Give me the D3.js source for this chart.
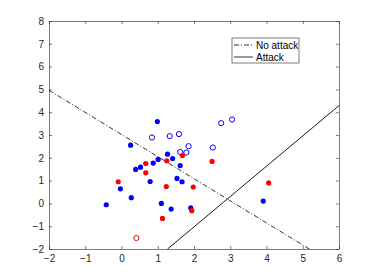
<!DOCTYPE html>
<html>
<head>
<meta charset="utf-8">
<script src="https://cdn.jsdelivr.net/npm/d3@7"></script>
<style>
  body { margin: 0; background: #fff; }
  svg { display: block; font-family: "Liberation Sans", Arial, sans-serif; }
</style>
</head>
<body>
<div id="wrapper"></div>
<script>
// data
const blueFilledX = [0.99, 0.25, 1.27, 1.01, 1.41, 0.875, 1.62, 0.525, 0.39, 1.53, 1.67, 0.79, -0.03, 0.27, -0.42, 1.10, 1.37, 1.91, 3.91];
const blueFilledY = [3.59, 2.555, 2.16, 1.93, 1.97, 1.77, 1.66, 1.59, 1.49, 1.095, 0.95, 0.96, 0.64, 0.25, -0.06, 0.0, -0.25, -0.2, 0.1];
const blueOpenX = [0.84, 1.33, 1.585, 1.85, 1.62, 1.79, 2.52, 2.75, 3.05];
const blueOpenY = [2.89, 2.95, 3.04, 2.51, 2.25, 2.23, 2.45, 3.52, 3.68];
const redFilledX = [-0.09, 0.67, 0.67, 1.25, 1.68, 1.235, 1.98, 2.50, 4.06, 1.13, 1.94];
const redFilledY = [0.95, 1.75, 1.34, 1.87, 2.10, 0.74, 0.72, 1.84, 0.90, -0.66, -0.32];
const redOpenX = [0.41];
const redOpenY = [-1.52];

// decision lines, end points
const noAttackLine = [[-2, 4.96], [5.18, -2]];
const attackLine = [[1.27, -2], [6, 4.29]];

const xTicks = [-2, -1, 0, 1, 2, 3, 4, 5, 6];
const yTicks = [-2, -1, 0, 1, 2, 3, 4, 5, 6, 7, 8];
const legendLabels = ["No attack", "Attack"];

const dimensions = {
  width: 374,
  height: 280,
  margin: { top: 21, right: 35, bottom: 31, left: 49 },
};
dimensions.boundedWidth = dimensions.width - dimensions.margin.left - dimensions.margin.right;
dimensions.boundedHeight = dimensions.height - dimensions.margin.top - dimensions.margin.bottom;

const svg = d3.select("#wrapper")
  .append("svg")
  .attr("width", dimensions.width)
  .attr("height", dimensions.height);

const bounds = svg.append("g")
  .attr("transform", `translate(${dimensions.margin.left},${dimensions.margin.top})`);

const xScale = d3.scaleLinear().domain([-2, 6]).range([0, dimensions.boundedWidth]);
const yScale = d3.scaleLinear().domain([-2, 8]).range([dimensions.boundedHeight, 0]);

const axisColor = "#262626";

// axes, ticks inside like matlab
const xAxis = bounds.append("g")
  .attr("transform", `translate(0,${dimensions.boundedHeight})`)
  .call(d3.axisBottom(xScale).tickValues(xTicks).tickSizeInner(-3).tickSizeOuter(0).tickPadding(6));
const yAxis = bounds.append("g")
  .call(d3.axisLeft(yScale).tickValues(yTicks).tickSizeInner(-3).tickSizeOuter(0).tickPadding(5));
const xTop = bounds.append("g")
  .call(d3.axisTop(xScale).tickValues(xTicks).tickSizeInner(-3).tickSizeOuter(0).tickFormat(""));
const yRight = bounds.append("g")
  .attr("transform", `translate(${dimensions.boundedWidth},0)`)
  .call(d3.axisRight(yScale).tickValues(yTicks).tickSizeInner(-3).tickSizeOuter(0).tickFormat(""));

[xAxis, yAxis, xTop, yRight].forEach(a => {
  a.select(".domain").attr("stroke", axisColor).attr("stroke-width", 0.6);
  a.selectAll(".tick line").attr("stroke", axisColor).attr("stroke-width", 0.6);
  a.selectAll(".tick text").attr("fill", axisColor).style("font-size", "10px");
});

// lines
const line = d3.line().x(d => xScale(d[0])).y(d => yScale(d[1]));
bounds.append("path")
  .attr("d", line(noAttackLine))
  .attr("fill", "none")
  .attr("stroke", "#000")
  .attr("stroke-width", 0.8)
  .attr("stroke-dasharray", "5,2,1,2");
bounds.append("path")
  .attr("d", line(attackLine))
  .attr("fill", "none")
  .attr("stroke", "#000")
  .attr("stroke-width", 0.9);

// points
function drawPoints(xs, ys, color, filled) {
  bounds.append("g")
    .selectAll("circle")
    .data(d3.zip(xs, ys))
    .join("circle")
    .attr("cx", d => xScale(d[0]))
    .attr("cy", d => yScale(d[1]))
    .attr("r", filled ? 2.6 : 2.6)
    .attr("fill", filled ? color : "none")
    .attr("stroke", filled ? "none" : color)
    .attr("stroke-width", 1);
}
drawPoints(blueFilledX, blueFilledY, "#0000ff", true);
drawPoints(blueOpenX, blueOpenY, "#0000ff", false);
drawPoints(redFilledX, redFilledY, "#ff0000", true);
drawPoints(redOpenX, redOpenY, "#ff0000", false);

// legend
const legend = svg.append("g").attr("transform", "translate(232,38)");
legend.append("rect")
  .attr("width", 67)
  .attr("height", 25)
  .attr("fill", "#fff")
  .attr("stroke", axisColor)
  .attr("stroke-width", 0.6);
legendLabels.forEach((label, i) => {
  const y = 7 + i * 12;
  legend.append("line")
    .attr("x1", 2).attr("x2", 21)
    .attr("y1", y).attr("y2", y)
    .attr("stroke", "#000")
    .attr("stroke-width", 0.8)
    .attr("stroke-dasharray", i === 0 ? "5,2,1,2" : null);
  legend.append("text")
    .attr("x", 24)
    .attr("y", y)
    .attr("dy", "0.35em")
    .attr("fill", "#000")
    .style("font-size", "10px")
    .text(label);
});
</script>
</body>
</html>
